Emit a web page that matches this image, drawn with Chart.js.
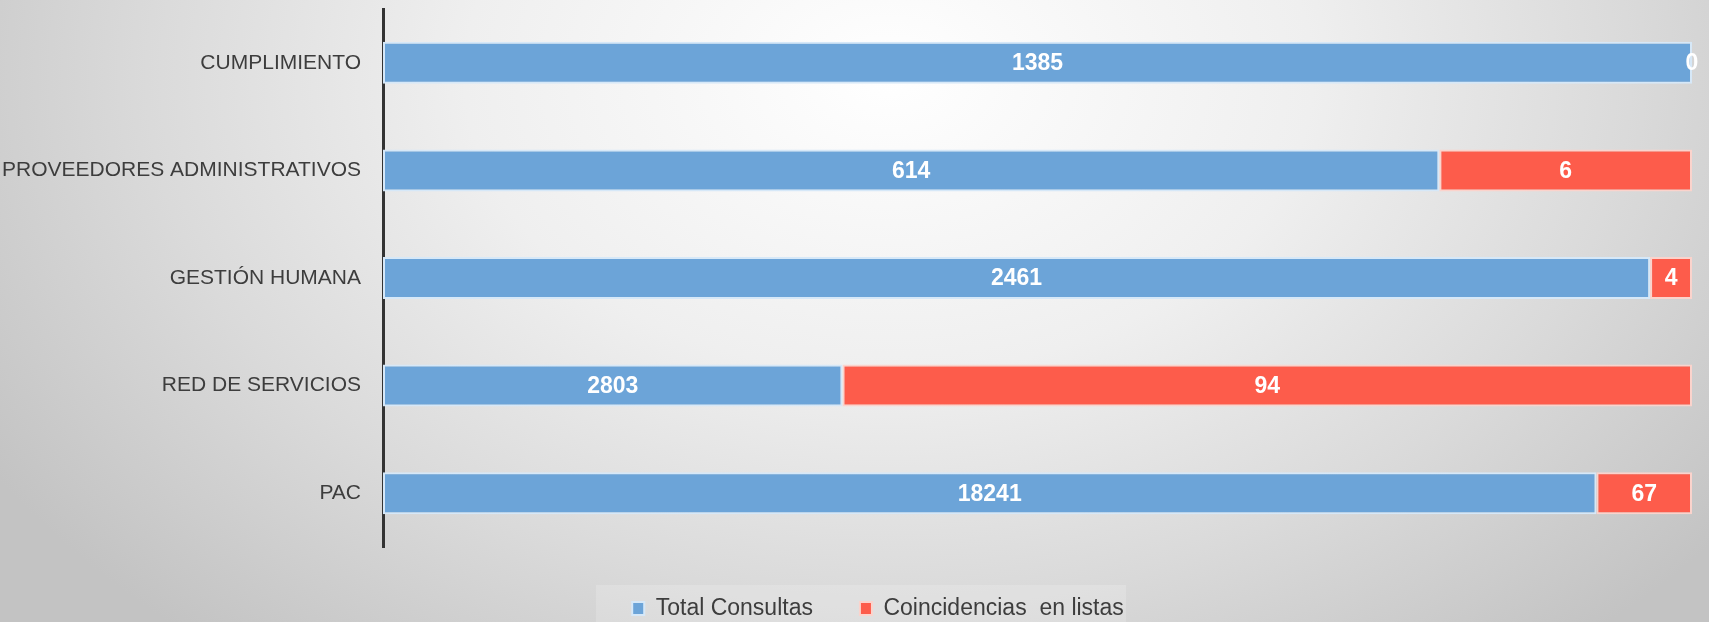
<!DOCTYPE html>
<html>
<head>
<meta charset="utf-8">
<script src="https://cdn.jsdelivr.net/npm/chart.js@4.4.1/dist/chart.umd.min.js"></script>
<style>
  html, body { margin: 0; padding: 0; }
  body {
    width: 1709px; height: 622px; overflow: hidden;
    background: radial-gradient(ellipse 62% 120% at 52% 12%, #ffffff 0%, #efefef 40%, #dadada 70%, #c3c3c3 100%);
  }
  #wrap { position: relative; width: 1709px; height: 622px; }
</style>
</head>
<body>
<div id="wrap"><canvas id="c" width="1709" height="622"></canvas></div>
<script>
// Categories (top to bottom)
const categories = ['CUMPLIMIENTO', 'PROVEEDORES ADMINISTRATIVOS', 'GESTIÓN HUMANA', 'RED DE SERVICIOS', 'PAC'];
// Values shown in the data labels
const totalConsultas = [1385, 614, 2461, 2803, 18241];
const coincidencias = [0, 6, 4, 94, 67];
// Share of each bar (percent of full length) as drawn in the picture
const totalShare = [100, 80.7, 96.8, 35.1, 92.7];
const coincShare = [0, 19.3, 3.2, 64.9, 7.3];
const seriesNames = ['Total Consultas', 'Coincidencias  en listas'];

const FONT = "'Liberation Sans Narrow', 'Arial Narrow', 'Liberation Sans', sans-serif";

const labelPlugin = {
  id: 'valueLabels',
  afterDatasetsDraw(chart) {
    const ctx = chart.ctx;
    const labelSets = [totalConsultas, coincidencias];
    ctx.save();
    ctx.fillStyle = '#ffffff';
    ctx.font = "bold 23px " + FONT;
    ctx.textAlign = 'center';
    ctx.textBaseline = 'middle';
    chart.data.datasets.forEach((ds, i) => {
      const meta = chart.getDatasetMeta(i);
      meta.data.forEach((el, j) => {
        const cx = (el.x + el.base) / 2;
        ctx.fillText(String(labelSets[i][j]), cx, el.y + 1);
      });
    });
    ctx.restore();
  }
};

const layoutPlugin = {
  id: 'legendLayout',
  beforeLayout(chart) {
    const lg = chart.legend;
    if (lg && !lg._patched) {
      const orig = lg.fit;
      lg.fit = function () { orig.call(this); this.height = 75; };
      lg._patched = true;
    }
  },
  afterLayout(chart) {
    const lg = chart.legend;
    if (lg) { lg.top += 3; lg.bottom += 3; lg.left += 32; lg.right += 32; }
  },
  beforeDraw(chart) {
    const ctx = chart.ctx;
    ctx.save();
    ctx.fillStyle = 'rgba(255,255,255,0.18)';
    ctx.fillRect(596, 585, 530, 37);
    ctx.restore();
  }
};

new Chart(document.getElementById('c'), {
  type: 'bar',
  data: {
    labels: categories,
    datasets: [
      {
        label: seriesNames[0],
        data: totalShare,
        backgroundColor: '#6ca4d8',
        borderColor: '#d6e8f8',
        borderWidth: 2,
        borderSkipped: false
      },
      {
        label: seriesNames[1],
        data: coincShare,
        backgroundColor: '#fd5c4b',
        borderColor: '#fbd3cc',
        borderWidth: 2,
        borderSkipped: false
      }
    ]
  },
  options: {
    indexAxis: 'y',
    responsive: false,
    animation: false,
    layout: { padding: { top: 9, right: 17, left: 0, bottom: 0 } },
    datasets: { bar: { barPercentage: 0.39, categoryPercentage: 1.0 } },
    scales: {
      x: {
        stacked: true,
        display: false,
        min: 0,
        max: 100
      },
      y: {
        stacked: true,
        grid: { display: false, drawTicks: false },
        border: { display: true, color: '#333333', width: 3 },
        ticks: {
          color: '#3d3d3d',
          padding: 22,
          font: { family: FONT, size: 21 }
        },
        afterFit(scale) { scale.width = 383; scale.paddingTop = 0; scale.paddingBottom = 0; }
      }
    },
    plugins: {
      tooltip: { enabled: false },
      legend: {
        position: 'bottom',
        labels: {
          color: '#3d3d3d',
          font: { family: FONT, size: 23 },
          boxWidth: 12,
          boxHeight: 13,
          padding: 47
        }
      }
    }
  },
  plugins: [labelPlugin, layoutPlugin]
});
</script>
</body>
</html>
